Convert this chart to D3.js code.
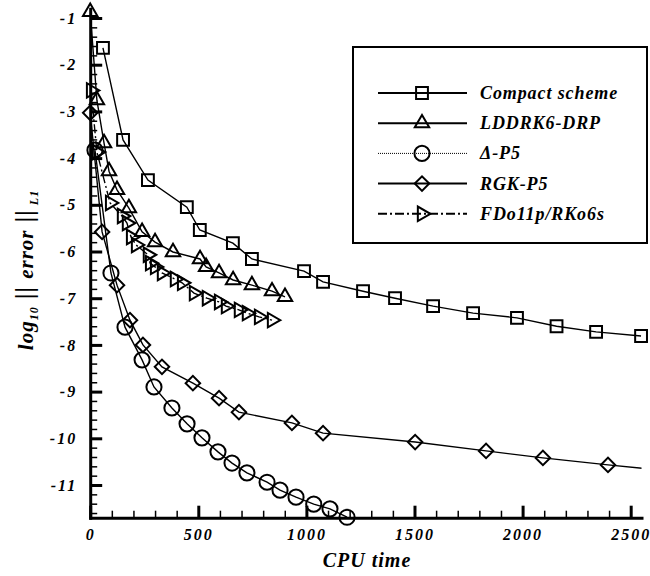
<!DOCTYPE html>
<html>
<head>
<meta charset="utf-8">
<script src="https://cdn.jsdelivr.net/npm/d3@7"></script>
<style>
  body { margin: 0; background: #fff; }
  svg { display: block; }
  text { font-family: "Liberation Serif", "DejaVu Serif", serif; font-weight: bold; font-style: italic; fill: #000; }
</style>
</head>
<body>
<svg id="chart"></svg>
<script>
// ---- data ----
const compactX = [59, 152, 267, 447, 507, 660, 748, 989, 1077, 1262, 1410, 1586, 1771, 1974, 2157, 2340, 2548];
const compactY = [-1.64, -3.61, -4.47, -5.05, -5.54, -5.82, -6.16, -6.42, -6.65, -6.85, -7.00, -7.17, -7.32, -7.42, -7.60, -7.72, -7.81];

const lddrkX = [0, 31, 64, 87, 124, 179, 240, 300, 383, 508, 536, 596, 661, 748, 841, 901];
const lddrkY = [-0.87, -2.76, -3.68, -4.28, -4.68, -5.07, -5.58, -5.80, -6.01, -6.16, -6.33, -6.46, -6.61, -6.72, -6.85, -6.97];

const deltaX = [22, 96, 161, 240, 295, 378, 448, 517, 591, 656, 725, 818, 878, 952, 1034, 1109, 1188];
const deltaY = [-3.83, -6.46, -7.62, -8.32, -8.90, -9.35, -9.69, -9.99, -10.29, -10.53, -10.74, -10.94, -11.11, -11.26, -11.41, -11.51, -11.69];

const rgkX = [0, 55, 124, 184, 244, 332, 475, 596, 688, 933, 1077, 1503, 1831, 2094, 2395, 2700];
const rgkY = [-3.03, -5.58, -6.72, -7.47, -8.00, -8.47, -8.82, -9.14, -9.44, -9.67, -9.89, -10.08, -10.27, -10.42, -10.57, -10.71];

const fdoX = [4, 31, 92, 147, 170, 189, 212, 267, 277, 300, 332, 392, 425, 480, 540, 596, 628, 688, 725, 781, 841];
const fdoY = [-2.55, -3.87, -4.96, -5.24, -5.39, -5.69, -5.86, -6.07, -6.25, -6.33, -6.46, -6.59, -6.67, -6.89, -7.00, -7.08, -7.17, -7.25, -7.32, -7.40, -7.47];

const seriesNames = ['Compact scheme', 'LDDRK6-DRP', '\u0394-P5', 'RGK-P5', 'FDo11p/RKo6s'];
const xTicks = [0, 500, 1000, 1500, 2000, 2500];
const yTicks = [-1, -2, -3, -4, -5, -6, -7, -8, -9, -10, -11];

// ---- layout ----
const width = 650, height = 576;
const x = d3.scaleLinear().domain([0, 2550]).range([90.2, 641.5]);
const y = d3.scaleLinear().domain([-11.7, -0.8]).range([517.7, 8.66]);

const svg = d3.select('#chart').attr('width', width).attr('height', height);

const zip = (xs, ys) => xs.map((v, i) => ({x: v, y: ys[i]}));

const shapes = {
  square: {type: d3.symbolSquare, size: 140, rot: 0},
  triangle: {type: d3.symbolTriangle, size: 90, rot: 0},
  circle: {type: d3.symbolCircle, size: 180, rot: 0},
  diamond: {type: d3.symbolSquare, size: 105, rot: 45},
  right: {type: d3.symbolTriangle, size: 90, rot: 90}
};

const series = [
  {name: seriesNames[0], data: zip(compactX, compactY), shape: 'square', dash: null, key: null},
  {name: seriesNames[1], data: zip(lddrkX, lddrkY), shape: 'triangle', dash: null, key: null},
  {name: seriesNames[2], data: zip(deltaX, deltaY), shape: 'circle', dash: null, key: '1,1'},
  {name: seriesNames[3], data: zip(rgkX, rgkY), shape: 'diamond', dash: null, key: null},
  {name: seriesNames[4], data: zip(fdoX, fdoY), shape: 'right', dash: '9,3,2,3', key: '9,3,2,3'}
];

svg.append('clipPath').attr('id', 'plot-clip')
  .append('rect')
  .attr('x', x.range()[0]).attr('y', 0)
  .attr('width', x.range()[1] - x.range()[0]).attr('height', y.range()[0]);

// ---- axes ----
const yMinor = d3.range(-11.6, -0.85, 0.2).map(v => Math.round(v * 10) / 10);
const xMinor = d3.range(0, 2551, 100);

svg.append('g')
  .attr('transform', `translate(${x.range()[0]},0)`)
  .call(d3.axisLeft(y).tickValues(yMinor).tickSize(-7).tickSizeOuter(0).tickFormat(''))
  .call(g => g.select('.domain').remove())
  .call(g => g.selectAll('.tick line').attr('stroke-width', 1.5));

svg.append('g')
  .attr('transform', `translate(0,${y.range()[0]})`)
  .call(d3.axisBottom(x).tickValues(xMinor).tickSize(-7).tickSizeOuter(0).tickFormat(''))
  .call(g => g.select('.domain').remove())
  .call(g => g.selectAll('.tick line').attr('stroke-width', 1.5));

const yAxis = svg.append('g')
  .attr('transform', `translate(${x.range()[0]},0)`)
  .call(d3.axisLeft(y).tickValues(yTicks).tickSize(-12).tickSizeOuter(0).tickPadding(13).tickFormat(d => String(d)));

const xAxis = svg.append('g')
  .attr('transform', `translate(0,${y.range()[0]})`)
  .call(d3.axisBottom(x).tickValues(xTicks).tickSize(-12).tickSizeOuter(0).tickPadding(11).tickFormat(d => String(d)));

[yAxis, xAxis].forEach(g => {
  g.attr('font-family', null).attr('font-size', null);
  g.select('.domain').attr('stroke-width', 3).attr('stroke-linecap', 'square');
  g.selectAll('.tick line').attr('stroke-width', 3);
  g.selectAll('.tick text').style('font-size', '16px').style('letter-spacing', '2px');
});

// ---- series ----
const line = d3.line().x(d => x(d.x)).y(d => y(d.y));

series.forEach(s => {
  svg.append('path')
    .datum(s.data)
    .attr('clip-path', 'url(#plot-clip)')
    .attr('fill', 'none')
    .attr('stroke', '#000')
    .attr('stroke-width', 1.4)
    .attr('stroke-dasharray', s.dash)
    .attr('d', line);

  const sh = shapes[s.shape];
  svg.append('g').selectAll('path')
    .data(s.data.filter(d => d.x <= x.domain()[1]))
    .join('path')
    .attr('transform', d => `translate(${x(d.x)},${y(d.y)}) rotate(${sh.rot})`)
    .attr('d', d3.symbol().type(sh.type).size(sh.size))
    .attr('fill', 'none')
    .attr('stroke', '#000')
    .attr('stroke-width', 2);
});

// ---- axis titles ----
svg.append('text')
  .attr('x', 367).attr('y', 567)
  .attr('text-anchor', 'middle')
  .style('font-size', '20px')
  .style('letter-spacing', '1px')
  .text('CPU time');

const yl = svg.append('text')
  .attr('transform', 'translate(33,270) rotate(-90)')
  .attr('text-anchor', 'middle')
  .style('font-size', '21px')
  .style('letter-spacing', '1px');
yl.append('tspan').text('log');
yl.append('tspan').attr('dy', 5).style('font-size', '12px').text('10');
yl.append('tspan').attr('dy', -5).style('font-style', 'normal').style('font-size', '25px').text(' || ');
yl.append('tspan').text('error');
yl.append('tspan').style('font-style', 'normal').style('font-size', '25px').text(' ||');
yl.append('tspan').attr('dy', 5).style('font-size', '12px').text(' L1');

// ---- legend ----
const legend = svg.append('g');
legend.append('rect')
  .attr('x', 353).attr('y', 47).attr('width', 294).attr('height', 196)
  .attr('fill', '#fff').attr('stroke', '#000').attr('stroke-width', 2);

series.forEach((s, i) => {
  const ry = 93 + i * 30.2;
  const sh = shapes[s.shape];
  legend.append('line')
    .attr('x1', 378).attr('x2', 467).attr('y1', ry).attr('y2', ry)
    .attr('stroke', '#000').attr('stroke-width', s.key === '1,1' ? 1 : 2)
    .attr('stroke-dasharray', s.key);
  legend.append('path')
    .attr('transform', `translate(422,${ry}) rotate(${sh.rot})`)
    .attr('d', d3.symbol().type(sh.type).size(sh.size))
    .attr('fill', 'none').attr('stroke', '#000').attr('stroke-width', 2);
  legend.append('text')
    .attr('x', 480).attr('y', ry + 6)
    .style('font-size', '18px')
    .style('letter-spacing', '0.9px')
    .text(s.name);
});
</script>
</body>
</html>
